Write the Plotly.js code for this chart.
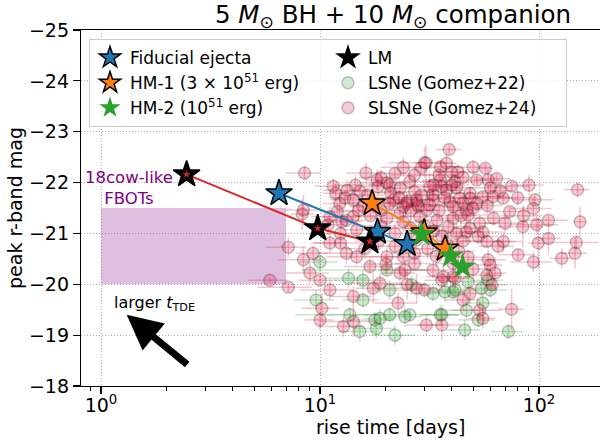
<!DOCTYPE html>
<html><head><meta charset="utf-8">
<script src="https://cdn.plot.ly/plotly-3.0.1.min.js"></script>
<style>html,body{margin:0;padding:0;background:#fff}#plot{width:600px;height:442px}</style>
</head><body><div id="plot"></div>
<script>
// ---- SLSNe (Gomez+24) ----
const slsneRise = [8.5,16.2,22,25.7,30,29,18.2,11.5,13.3,15.2,
11.8,20.8,23.2,27,32.7,12.3,14.2,15.7,21.6,25,
27.7,8.3,12,14.2,20.2,23.2,30.7,38.9,30.5,35.5,
37.8,39.8,42.6,56.9,35.5,41.4,52,58.6,64,75,
66.5,31.7,37.8,48.4,48.4,55.4,61.6,68.6,32.8,39.3,
43.5,95.8,150,24.9,28.1,31.7,46.7,52,40.5,47.5,
73.5,94.2,110.5,84.4,97.5,154,53.6,48.4,55.4,18.4,
20.2,36,20.8,24,27.6,40.5,11.1,13.2,24,28.6,
34.2,12.4,14.7,22,27.6,38.6,7.17,5.9,7.17,8.4,
9.3,11.1,12.4,13.2,14.7,9,10,11.1,10.2,10,
12.8,14.2,14.2,16.9,18.8,17.5,22.7,23.2,24.4,27,
27.6,30,30.6,36,20.2,24,27,32.8,36,40.5,
47.5,58.6,59.9,57.8,63,48.4,61,45,53.6,55.4,
75,80.3,94.3,99.2,110.5,148,146,127,68.7,57.8,
52.8,46.6,40.5,36.6,41.4,8.4,10.9,12.6,14.5,16.5,
17.5,19,21,23,26,29,33,35,37,42,
45,50,44,19,17,15,13,26,30,33,
36,42,45,31,22,18.5,16,20,25,34,
38,43,50,65,70,62,58,80,90,85,
19,24,27,45,50,60,35,40];
const slsneMag = [-22.19,-22.19,-22.18,-22.02,-22.39,-22.29,-22.05,-21.93,-21.85,-21.83,
-21.79,-21.95,-21.89,-21.82,-21.76,-21.59,-21.66,-21.53,-21.66,-21.62,
-21.59,-21.38,-21.43,-21.33,-21.30,-21.40,-21.46,-22.65,-22.39,-22.31,
-22.38,-22.21,-22.21,-22.28,-22.05,-22.02,-22.05,-22.05,-22.08,-21.93,
-21.84,-21.92,-21.85,-21.79,-21.69,-21.72,-21.72,-21.69,-21.66,-21.62,
-21.69,-21.66,-21.86,-21.59,-21.53,-21.56,-21.46,-21.59,-21.30,-21.36,
-21.43,-21.49,-21.26,-21.13,-21.17,-21.23,-21.20,-21.10,-21.03,-21.92,
-21.99,-21.92,-21.59,-21.53,-21.66,-21.53,-21.33,-21.26,-21.23,-21.33,
-21.26,-21.00,-21.07,-21.00,-20.87,-21.13,-20.73,-20.08,-19.94,-20.48,
-20.61,-20.81,-20.81,-20.61,-20.54,-20.22,-20.08,-19.89,-19.53,-19.30,
-19.17,-19.27,-19.76,-20.35,-20.02,-19.92,-19.63,-20.22,-20.28,-20.41,
-19.92,-19.89,-19.20,-19.20,-20.54,-20.54,-20.61,-20.28,-20.08,-20.15,
-20.53,-20.48,-20.38,-20.18,-20.22,-19.82,-19.99,-19.69,-19.49,-19.33,
-19.51,-20.58,-20.44,-20.81,-20.90,-20.82,-20.61,-20.51,-20.84,-20.84,
-20.94,-21.03,-20.41,-20.15,-20.12,-21.46,-21.17,-21.23,-21.95,-21.75,
-21.60,-21.45,-21.80,-21.70,-21.45,-21.75,-21.95,-21.45,-21.70,-21.90,
-21.60,-21.50,-21.35,-21.15,-21.35,-21.45,-21.70,-21.10,-21.15,-21.05,
-20.95,-21.00,-20.85,-20.70,-20.75,-20.85,-20.70,-20.40,-20.00,-20.55,
-20.80,-20.65,-20.30,-20.75,-21.20,-21.30,-21.55,-21.70,-21.95,-21.35,
-22.10,-22.30,-22.15,-22.10,-22.30,-21.90,-22.15,-21.95];
const slsneRiseErr = [1.5,3,4,5,3,6,2,2,3,2,
1.5,4,3,8,5,2,3,2,4,6,
3,1,2,4,3,5,4,5,10,8,
4,6,10,5,6,12,6,8,10,15,
10,6,8,10,6,8,12,10,7,5,
9,20,20,5,4,6,8,9,6,10,
15,20,25,20,25,10,10,8,12,3,
5,7,4,5,6,8,2,3,6,5,
7,3,2,5,6,8,1.5,1.2,2,2,
1.5,2,3,3,4,2,2,3,2,1.5,
3,4,3,4,5,3,5,4,6,5,
7,6,6,8,4,5,6,7,6,8,
10,12,8,10,8,8,10,8,14,8,
10,15,20,10,15,40,20,15,15,20,
12,8,7,6,8,1.5,2,3,3,3,
4,3,4,5,5,6,7,7,6,8,
9,10,8,4,3,3,2,5,6,6,
7,8,9,6,4,4,3,4,5,7,
7,8,10,12,14,12,10,16,15,18,
4,5,6,9,10,12,7,8];
const slsneMagErr = [0.15,0.2,0.1,0.15,0.3,0.1,0.2,0.15,0.2,0.1,
0.2,0.15,0.1,0.2,0.15,0.25,0.15,0.1,0.2,0.15,
0.1,0.3,0.15,0.2,0.1,0.25,0.15,0.1,0.35,0.1,
0.2,0.1,0.15,0.1,0.2,0.15,0.1,0.2,0.1,0.1,
0.15,0.3,0.15,0.1,0.2,0.1,0.15,0.1,0.2,0.15,
0.3,0.1,0.15,0.2,0.1,0.15,0.25,0.1,0.3,0.15,
0.1,0.2,0.1,0.4,0.2,0.3,0.15,0.3,0.1,0.15,
0.1,0.2,0.15,0.2,0.1,0.2,0.2,0.1,0.2,0.15,
0.2,0.3,0.15,0.2,0.1,0.2,0.2,0.05,0.1,0.25,
0.15,0.2,0.1,0.2,0.15,0.2,0.1,0.2,0.3,0.2,
0.2,0.3,0.2,0.15,0.2,0.3,0.2,0.15,0.2,0.1,
0.3,0.15,0.2,0.3,0.2,0.1,0.2,0.15,0.2,0.2,
0.15,0.2,0.1,0.2,0.3,0.2,0.15,0.2,0.2,0.2,
0.4,0.1,0.2,0.5,0.3,0.15,0.3,0.2,0.2,0.1,
0.15,0.2,0.15,0.2,0.2,0.3,0.2,0.15,0.2,0.15,
0.2,0.1,0.2,0.15,0.2,0.1,0.2,0.15,0.2,0.1,
0.2,0.15,0.2,0.2,0.1,0.2,0.15,0.2,0.15,0.2,
0.15,0.2,0.1,0.2,0.15,0.2,0.2,0.2,0.3,0.2,
0.15,0.2,0.2,0.15,0.2,0.15,0.2,0.15,0.2,0.2,
0.15,0.2,0.15,0.2,0.15,0.2,0.1,0.2];

// ---- LSNe (Gomez+22) ----
const lsneRise = [10,9.6,13.7,13.5,15.7,15.7,15.2,20.2,20.8,17.8,
18.8,18.1,20.8,22,26.2,32.8,25.7,24.4,35.4,40.5,
58.6,47.5,37.2,41.4,54.6,59.9,55.4,46.6,52.8,45.8,
72.5,36];
const lsneMag = [-20.44,-19.69,-19.40,-20.12,-20.08,-19.69,-19.07,-20.28,-19.89,-19.30,
-19.33,-19.13,-19.40,-19.00,-19.99,-19.82,-19.40,-19.36,-19.40,-19.85,
-20.08,-20.05,-19.85,-19.89,-19.92,-19.89,-19.63,-19.49,-19.30,-19.10,
-19.07,-19.40];
const lsneRiseErr = [2,2,3,3,4,3,3,12,4,4,
3,4,5,5,5,6,18,5,7,8,
10,9,8,7,10,12,10,9,10,8,
12,7];
const lsneMagErr = [0.2,0.2,0.15,0.2,0.2,0.15,0.2,0.1,0.2,0.15,
0.2,0.2,0.15,0.2,0.2,0.15,0.1,0.2,0.2,0.15,
0.2,0.15,0.2,0.15,0.2,0.15,0.2,0.2,0.15,0.2,
0.15,0.2];

// ---- model tracks ----
const fidRise = [6.5, 18.3, 25.0];
const fidMag  = [-21.79, -21.03, -20.79];
const hm1Rise = [17.3, 29.9, 37.3];
const hm1Mag  = [-21.59, -21.02, -20.70];
const hm2Rise = [29.1, 39.5, 44.8];
const hm2Mag  = [-20.98, -20.56, -20.34];
const lmRise  = [2.46, 9.76, 16.9];
const lmMag   = [-22.16, -21.10, -20.84];

// ---- FBOT region ----
const fbotRise = [1, 7];
const fbotMag  = [-21.5, -20.0];

// ---- arrow (larger t_TDE) ----
const arrowTip = [1.31, -19.40];

// ---- axis ticks ----
const xTickVals = [1, 10, 100];
const xTickText = ['10<sup>0</sup>', '10<sup>1</sup>', '10<sup>2</sup>'];
const xMinorVals = [0.9,2,3,4,5,6,7,8,9,20,30,40,50,60,70,80,90,200];
const yTickVals = [-25,-24,-23,-22,-21,-20,-19,-18];

const FONT = 'DejaVu Sans, sans-serif';
const C = {blue:'#1f77b4', orange:'#ff7f0e', green:'#2ca02c', red:'#d62728'};

function errScatter(x, y, ex, ey, name, rgb, rank) {
  return {
    type:'scatter', mode:'markers', x:x, y:y, name:name, legendrank:rank,
    marker:{symbol:'circle', size:12, color:'rgba('+rgb+',0.22)', line:{color:'rgba(0,0,0,0.22)', width:1.5}},
    error_x:{type:'data', array:ex, visible:true, color:'rgba('+rgb+',0.25)', thickness:1.5, width:0},
    error_y:{type:'data', array:ey, visible:true, color:'rgba('+rgb+',0.25)', thickness:1.5, width:0},
    hoverinfo:'skip'
  };
}
function track(x, y, color) {
  return {type:'scatter', mode:'lines', x:x, y:y, line:{color:color, width:2}, showlegend:false, hoverinfo:'skip'};
}
function stars(x, y, name, color, edge, rank, size) {
  return {type:'scatter', mode:'markers', x:x, y:y, name:name, legendrank:rank,
    marker:{symbol:'star', size:size||20, color:color, line:{color:'#000', width:edge}}, hoverinfo:'skip'};
}

const fbotX = [fbotRise[0], fbotRise[1], fbotRise[1], fbotRise[0], fbotRise[0]];
const fbotY = [fbotMag[0], fbotMag[0], fbotMag[1], fbotMag[1], fbotMag[0]];

const traces = [
  {type:'scatter', mode:'lines', x:fbotX, y:fbotY, fill:'toself', fillcolor:'rgba(128,0,128,0.25)',
   line:{width:0, color:'rgba(0,0,0,0)'}, showlegend:false, hoverinfo:'skip'},
  errScatter(lsneRise, lsneMag, lsneRiseErr, lsneMagErr, 'LSNe (Gomez+22)', '44,160,44', 4),
  errScatter(slsneRise, slsneMag, slsneRiseErr, slsneMagErr, 'SLSNe (Gomez+24)', '220,20,60', 6),
  track(fidRise, fidMag, C.blue),
  track(hm1Rise, hm1Mag, C.orange),
  track(hm2Rise, hm2Mag, C.green),
  track(lmRise, lmMag, C.red),
  stars(fidRise, fidMag, 'Fiducial ejecta', C.blue, 1.5, 1),
  stars(hm1Rise, hm1Mag, 'HM-1 (3 × 10<sup>51</sup> erg)', C.orange, 1.5, 3),
  stars(hm2Rise, hm2Mag, 'HM-2 (10<sup>51</sup> erg)', C.green, 0, 5),
  stars(lmRise, lmMag, 'LM', '#000', 1.5, 2),
  Object.assign(stars(lmRise, lmMag, 'LM inner', C.red, 0, 7, 6), {showlegend:false})
];

const axisCommon = {showline:true, linecolor:'#000', linewidth:1.2, ticks:'outside', ticklen:7, tickwidth:1.2,
  tickcolor:'#000', showgrid:true, gridcolor:'#b0b0b0', gridwidth:1, griddash:'1px,2px', zeroline:false,
  tickfont:{family:FONT, size:19, color:'#000'}};

const layout = {
  width:600, height:442,
  margin:{l:81, r:0, t:30, b:56},
  paper_bgcolor:'#fff', plot_bgcolor:'#fff',
  font:{family:FONT, color:'#000'},
  title:{text:'5 <i>M</i><sub>⊙</sub> BH + 10 <i>M</i><sub>⊙</sub> companion', font:{family:FONT, size:24.5, color:'#000'},
    xref:'container', x:393/600, xanchor:'center', yref:'container', y:1-14/442, yanchor:'middle'},
  xaxis:Object.assign({}, axisCommon, {type:'log', range:[-0.0913, 2.2785], mirror:true,
    tickmode:'array', tickvals:xTickVals, ticktext:xTickText, ticklabelstandoff:-5,
    minor:{tickmode:'array', tickvals:xMinorVals, ticks:'outside', ticklen:4, tickwidth:1, tickcolor:'#000', showgrid:false}}),
  yaxis:Object.assign({}, axisCommon, {range:[-18, -25], tickmode:'array', tickvals:yTickVals, mirror:false}),
  showlegend:true,
  legend:{orientation:'h', x:(89-81)/519, y:(386-39)/356, xanchor:'left', yanchor:'top',
    entrywidth:193, entrywidthmode:'pixels', traceorder:'normal',
    bgcolor:'rgba(255,255,255,0.8)', bordercolor:'#cccccc', borderwidth:1,
    font:{family:FONT, size:17, color:'#000'}, itemsizing:'trace'},
  annotations:[
    {text:'rise time [days]', xref:'paper', yref:'paper', x:(390-81)/519, y:-(427-386)/356,
     xanchor:'center', yanchor:'middle', showarrow:false, font:{family:FONT, size:19, color:'#000'}},
    {text:'peak r-band mag', xref:'paper', yref:'paper', x:(15-81)/519, y:0.5, textangle:-90,
     xanchor:'center', yanchor:'middle', showarrow:false, font:{family:FONT, size:19, color:'#000'}},
    {text:'18cow-like<br>FBOTs', xref:'x', yref:'y', x:Math.log10(1.34), y:-21.9, xanchor:'center', yanchor:'middle',
     showarrow:false, font:{family:FONT, size:16.5, color:'#800080'}},
    {text:'larger <i>t</i><sub>TDE</sub>', xref:'x', yref:'y', x:Math.log10(1.12), y:-19.63, xanchor:'left', yanchor:'middle',
     showarrow:false, font:{family:FONT, size:16, color:'#000'}},
    {text:'', xref:'x', yref:'y', x:Math.log10(arrowTip[0]), y:arrowTip[1], ax:62, ay:51,
     showarrow:true, arrowhead:2, arrowsize:1, arrowwidth:7, arrowcolor:'#000'}
  ]
};

Plotly.newPlot('plot', traces, layout, {displayModeBar:false, staticPlot:true});
</script></body></html>
